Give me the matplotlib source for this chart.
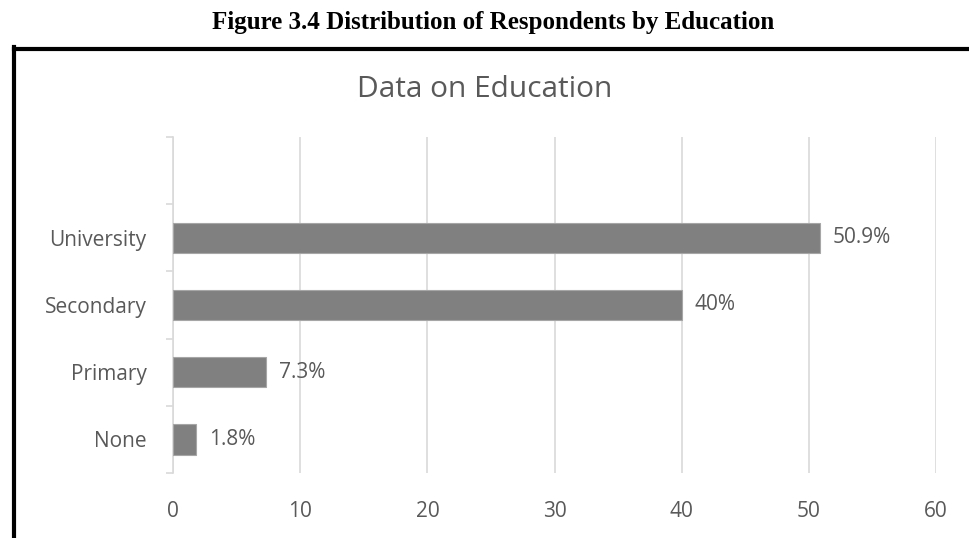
import matplotlib.pyplot as plt
from matplotlib.lines import Line2D

# education levels, bottom to top (top slot left empty)
levels = ["None", "Primary", "Secondary", "University", ""]
shares = [1.8, 7.3, 40.0, 50.9]
share_labels = ["1.8%", "7.3%", "40%", "50.9%"]
x_ticks = [0, 10, 20, 30, 40, 50, 60]

text_grey = "#595959"
grid_grey = "#d9d9d9"

plt.rcParams["font.family"] = ["Open Sans", "DejaVu Sans"]

fig = plt.figure(figsize=(9.7, 5.38), dpi=100)
ax = fig.add_axes([0.1784, 0.1208, 0.965 - 0.1784, 0.7454 - 0.1208])

ypos = list(range(len(shares)))
ax.barh(ypos, shares, height=0.45, color="#808080", edgecolor="#a6a6a6",
        linewidth=0.8, zorder=3)
for y, v, lab in zip(ypos, shares, share_labels):
    ax.text(v + 1.0, y, lab, va="center", ha="left", fontsize=15,
            color=text_grey)

ax.set_xlim(0, 60)
ax.set_ylim(-0.5, len(levels) - 0.5)
ax.set_xticks(x_ticks)
ax.set_yticks(range(len(levels)))
ax.set_yticklabels(levels)
ax.set_yticks([i - 0.5 for i in range(len(levels) + 1)], minor=True)

ax.grid(axis="x", color=grid_grey, linewidth=1.2, zorder=0)
for side in ("top", "right", "bottom"):
    ax.spines[side].set_visible(False)
ax.spines["left"].set_color(grid_grey)
ax.spines["left"].set_linewidth(1.2)

ax.tick_params(axis="x", length=0, pad=20, labelsize=15, colors=text_grey)
ax.tick_params(axis="y", which="major", length=0, pad=19, labelsize=15,
               colors=text_grey)
ax.tick_params(axis="y", which="minor", length=5, width=1.2, color=grid_grey)

fig.text(0.5, 0.833, "Data on Education", ha="center", va="center",
         fontsize=21.5, color=text_grey)
fig.text(0.508, 0.959, "Figure 3.4 Distribution of Respondents by Education",
         ha="center", va="center", fontsize=18, fontweight="bold",
         family="Liberation Serif", color="black")

# heavy frame along top and left edges
fig.add_artist(Line2D([0.0144, 1.0], [1 - 48.5 / 538, 1 - 48.5 / 538],
                      transform=fig.transFigure, color="black", linewidth=3))
fig.add_artist(Line2D([0.0144, 0.0144], [0.0, 1 - 47 / 538],
                      transform=fig.transFigure, color="black", linewidth=3))

fig.savefig("out.png", dpi=100)
